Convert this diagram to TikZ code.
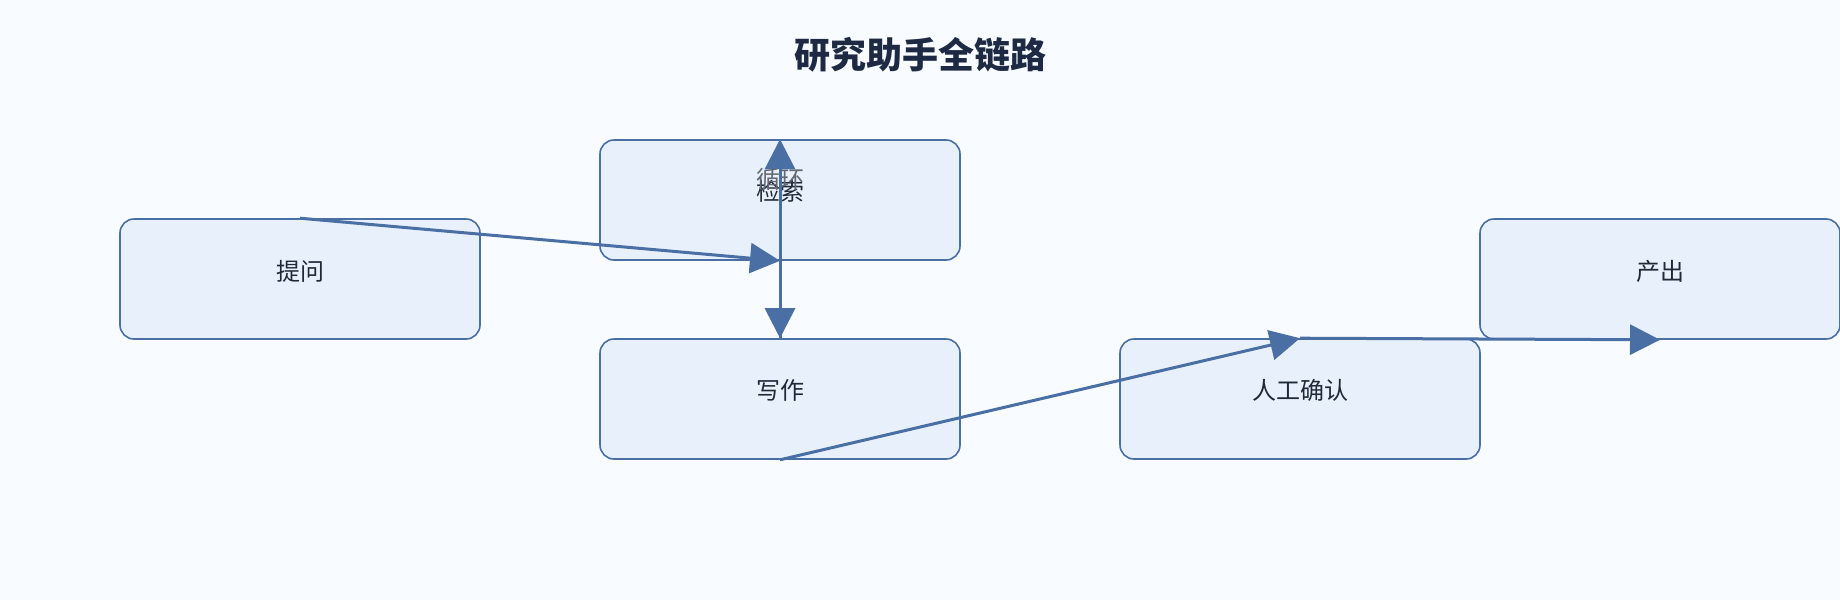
\documentclass[tikz,border=0pt]{standalone}
\usepackage{fontspec}
\setmainfont{Noto Sans CJK SC}
\usetikzlibrary{arrows.meta}
\definecolor{bg}{HTML}{F8FBFF}
\definecolor{boxfill}{HTML}{E8F0FC}
\definecolor{boxline}{HTML}{4A6FA5}
\definecolor{txt}{HTML}{1F2937}
\definecolor{ttl}{HTML}{1E2A44}
\tikzset{
 box/.style={draw=boxline,fill=boxfill,line width=1.6pt,rounded corners=14pt,minimum width=360pt,minimum height=120pt,inner sep=0pt},
 lbl/.style={font=\fontsize{24}{28}\selectfont,text=txt},
 conn/.style={draw=boxline,line width=3pt,-{Triangle[length=30pt,width=30pt]}}
}
\begin{document}
\begin{tikzpicture}[x=1pt,y=-1pt]
\fill[bg] (0,0) rectangle (1840,600);
\useasboundingbox (0,0) rectangle (1840,600);
\node[font=\fontsize{36}{40}\selectfont\bfseries,text=ttl] (title) at (920,55) {研究助手全链路};
\node[box] (ask) at (300,279) {};
\node[lbl] at (300,271) {提问};
\node[box] (ret) at (780,200) {};
\node[lbl] at (780,191) {检索};
\node[box] (wri) at (780,399) {};
\node[lbl] at (780,390) {写作};
\node[box] (hum) at (1300,399) {};
\node[lbl] at (1300,390) {人工确认};
\node[box] (out) at (1660,279) {};
\node[lbl] at (1660,271) {产出};
\draw[conn] (ask.north) -- (ret.south);
\draw[conn] (ret.south) -- (wri.north);
\draw[conn] (wri.north) -- node[pos=0.8,lbl,text=txt!70,fill=none] (loop) {循环} (ret.north);
\draw[conn] (wri.south) -- (hum.north);
\draw[conn] (hum.north) -- (out.south);
\end{tikzpicture}
\end{document}
